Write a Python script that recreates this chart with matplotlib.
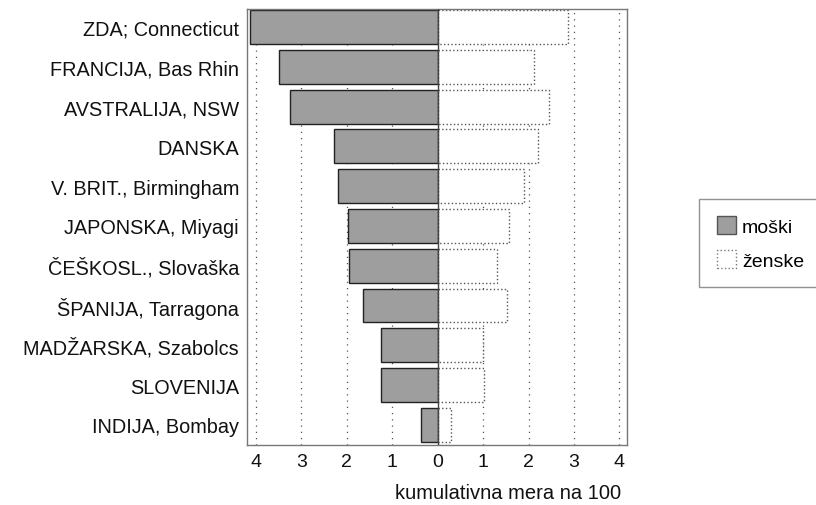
import matplotlib
matplotlib.use("Agg")
import matplotlib.pyplot as plt
from matplotlib.patches import Patch

plt.rcParams['font.family'] = ['Liberation Sans', 'DejaVu Sans']

categories = ["ZDA; Connecticut", "FRANCIJA, Bas Rhin", "AVSTRALIJA, NSW", "DANSKA",
              "V. BRIT., Birmingham", "JAPONSKA, Miyagi", "ČEŠKOSL., Slovaška",
              "ŠPANIJA, Tarragona", "MADŽARSKA, Szabolcs", "SLOVENIJA", "INDIJA, Bombay"]
moski = [4.13, 3.50, 3.24, 2.28, 2.19, 1.98, 1.95, 1.65, 1.24, 1.24, 0.37]
zenske = [2.86, 2.11, 2.44, 2.20, 1.89, 1.56, 1.31, 1.53, 1.00, 1.03, 0.29]
xticks = [-4, -3, -2, -1, 0, 1, 2, 3, 4]
xticklabels = ["4", "3", "2", "1", "0", "1", "2", "3", "4"]

fig = plt.figure(figsize=(8.16, 5.06), dpi=100)
ax = fig.add_axes([0.303, 0.119, 0.465, 0.861])

y = list(range(len(categories)))
for xv in xticks:
    if xv != 0:
        ax.axvline(xv, color='#555555', linestyle=(0, (1, 4)), linewidth=0.9, zorder=0)

ax.barh(y, [-m for m in moski], height=0.85, color='#9e9e9e', edgecolor='#222222',
        linewidth=1.0, zorder=2)
ax.barh(y, zenske, height=0.85, color='white', edgecolor='#555555',
        linewidth=1.0, linestyle=':', zorder=2)
ax.axvline(0, color='#444444', linewidth=1.0, zorder=3)

ax.set_xlim(-4.19, 4.16)
ax.set_ylim(10.5, -0.45)
ax.set_yticks(y)
ax.set_yticklabels(categories, fontsize=14.3, color='#111111')
ax.set_xticks(xticks)
ax.set_xticklabels(xticklabels, fontsize=14, color='#111111')
ax.tick_params(axis='x', length=0, pad=6)
ax.tick_params(axis='y', length=0, pad=6)
for s in ax.spines.values():
    s.set_color('#777777')
    s.set_linewidth(1.0)

ax.set_xlabel("kumulativna mera na 100", fontsize=14.5, color='#111111',
              ha='right', va='center')
ax.xaxis.set_label_coords(0.985, -0.11)

handles = [Patch(facecolor='#9e9e9e', edgecolor='#555555', label='moški'),
           Patch(facecolor='white', edgecolor='#777777', linestyle=':', label='ženske')]
leg = fig.legend(handles=handles, loc='upper left', bbox_to_anchor=(0.857, 0.605),
                 fontsize=14, frameon=True, fancybox=False, handlelength=1.0,
                 handleheight=1.0, handletextpad=0.3, borderpad=0.9, labelspacing=0.75,
                 borderaxespad=0)
leg.get_frame().set_edgecolor('#777777')
leg.get_frame().set_linewidth(1.0)

fig.savefig("out.png", dpi=100)
